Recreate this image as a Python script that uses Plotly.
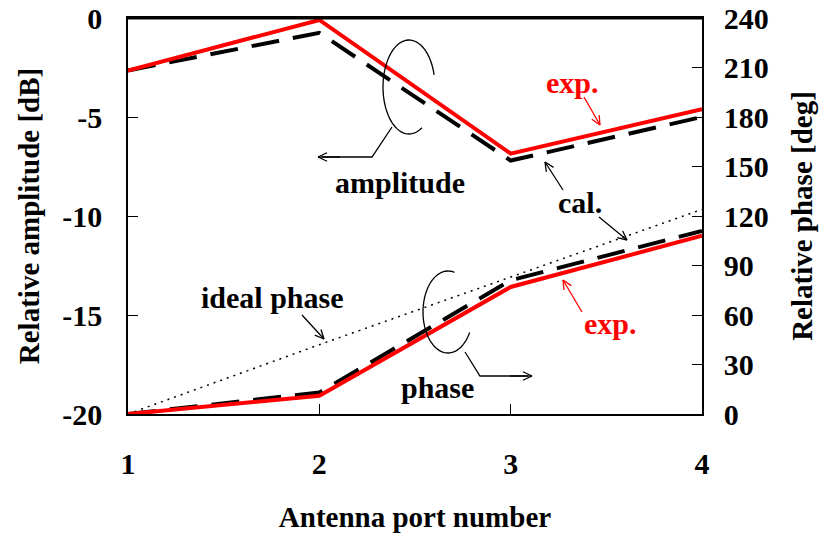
import math
import plotly.graph_objects as go

# ---------------- data ----------------
ports = [1, 2, 3, 4]
amp_exp = [-2.65, -0.1, -6.85, -4.6]     # dB
amp_cal = [-2.65, -0.75, -7.2, -5.0]     # dB
phase_exp = [0, 11, 77, 108]             # deg
phase_cal = [0, 13, 81, 111]             # deg
phase_ideal = [0, 42, 83, 124]           # deg
x_ticks = [1, 2, 3, 4]
amp_ticks = [0, -5, -10, -15, -20]
amp_tick_text = ["0", "-5", "-10", "-15", "-20"]
phase_ticks = [0, 30, 60, 90, 120, 150, 180, 210, 240]

FONT = "Liberation Serif"
RED = "#ff0000"

W, H = 827, 541
# target plot area in window pixels
L, R, T, B = 128, 702, 18, 414


def pp(px, py):
    return (px - L) / (R - L), (B - py) / (B - T)


fig = go.Figure()

fig.add_trace(go.Scatter(x=ports, y=amp_cal, mode="lines", yaxis="y",
                         line=dict(color="black", width=4, dash="28px,14px"),
                         showlegend=False))
fig.add_trace(go.Scatter(x=ports, y=amp_exp, mode="lines", yaxis="y",
                         line=dict(color=RED, width=4), showlegend=False))
fig.add_trace(go.Scatter(x=ports, y=phase_ideal, mode="lines", yaxis="y2",
                         line=dict(color="black", width=1.5, dash="2px,5px"),
                         showlegend=False))
fig.add_trace(go.Scatter(x=ports, y=phase_cal, mode="lines", yaxis="y2",
                         line=dict(color="black", width=4, dash="28px,14px"),
                         showlegend=False))
fig.add_trace(go.Scatter(x=ports, y=phase_exp, mode="lines", yaxis="y2",
                         line=dict(color=RED, width=4), showlegend=False))

shapes = []


def path_from_pixels(pts, color="black", width=1.3):
    d = ""
    for i, (px, py) in enumerate(pts):
        x, y = pp(px, py)
        d += ("M" if i == 0 else "L") + f"{x:.5f},{y:.5f} "
    shapes.append(dict(type="path", path=d, xref="paper", yref="paper",
                       line=dict(color=color, width=width), layer="above"))


def arrow(x0, y0, x1, y1, color="black", head=10, ang=25):
    path_from_pixels([(x0, y0), (x1, y1)], color)
    a = math.atan2(y0 - y1, x0 - x1)
    for s in (-1, 1):
        t = a + s * math.radians(ang)
        path_from_pixels([(x1, y1), (x1 + head * math.cos(t), y1 + head * math.sin(t))], color)


def arc(cx, cy, rx, ry, a0, a1, n=60):
    pts = []
    for i in range(n + 1):
        t = math.radians(a0 + (a1 - a0) * i / n)
        pts.append((cx + rx * math.cos(t), cy + ry * math.sin(t)))
    path_from_pixels(pts)


# top frame edge
path_from_pixels([(L, T + 0.5), (R, T + 0.5)], width=2)
# amplitude bracket
arc(409, 87, 26, 47, -15, -300)
path_from_pixels([(392, 127), (372, 157), (322, 157)])
arrow(340, 157, 318, 157)
# phase bracket
arc(448, 312, 25, 41, -75, -330)
path_from_pixels([(465, 352), (480, 376), (528, 376)])
arrow(510, 376, 532, 376)
# pointer arrows
arrow(302, 315, 324, 339)
arrow(582, 312, 563, 280, RED)
arrow(584, 97, 600, 125, RED)
arrow(563, 190, 545, 162)
arrow(599, 217, 627, 240)

annotations = []


def label(text, px, py, color="black", size=30):
    x, y = pp(px, py)
    annotations.append(dict(text=f"<b>{text}</b>", x=x, y=y, xref="paper", yref="paper",
                            xanchor="center", yanchor="middle", showarrow=False,
                            font=dict(family=FONT, size=size, color=color)))


label("amplitude", 400, 183)
label("phase", 437, 387)
label("ideal phase", 272, 297)
label("cal.", 580, 203)
label("exp.", 572, 82, RED)
label("exp.", 610, 323, RED)

tickfont = dict(family=FONT, size=30, color="black", weight="bold")
titlefont = dict(family=FONT, size=29, color="black", weight="bold")

common = dict(ticks="inside", ticklen=10, tickcolor="black", showline=True,
              linecolor="black", linewidth=1.5, showgrid=False, zeroline=False,
              tickfont=tickfont, automargin=False, ticklabeloverflow="allow")

fig.update_layout(
    width=W, height=H,
    margin=dict(l=L, r=W - R, t=T, b=H - B),
    plot_bgcolor="white", paper_bgcolor="white",
    shapes=shapes, annotations=annotations,
    xaxis=dict(range=[1, 4], tickvals=x_ticks, ticklabelstandoff=22, mirror=True,
               title=dict(text="Antenna port number", font=titlefont, standoff=28),
               **common),
    yaxis=dict(range=[-20, 0], tickvals=amp_ticks, ticktext=amp_tick_text,
               ticklabelstandoff=18,
               title=dict(text="Relative amplitude [dB]", font=titlefont, standoff=14),
               **common),
    yaxis2=dict(range=[0, 240], tickvals=phase_ticks, overlaying="y", side="right",
                ticklabelstandoff=14,
                title=dict(text="Relative phase [deg]", font=titlefont, standoff=24),
                **common),
)

fig.write_html("out.html", config={"displayModeBar": False},
               post_script="document.body.style.margin='0';document.body.style.overflow='hidden';")
